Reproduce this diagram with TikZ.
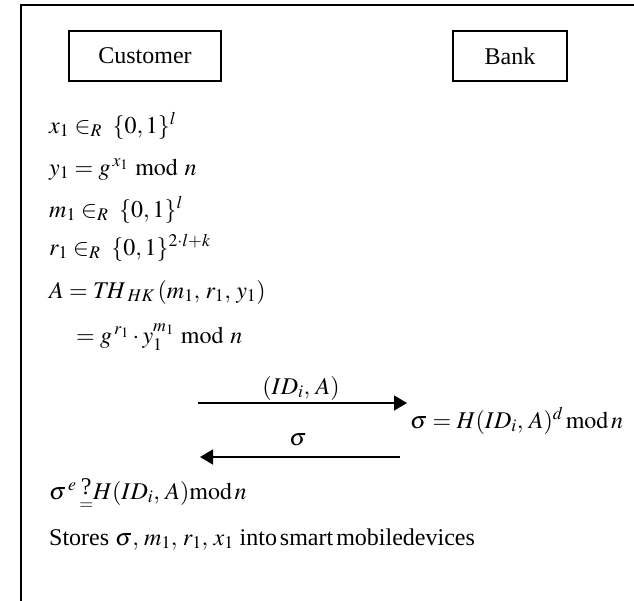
\documentclass[tikz,border=0pt]{standalone}
\usepackage{amsmath}
\usepackage{mathptmx}
\usepackage{fontspec}
\setmainfont{Liberation Serif}
\usetikzlibrary{arrows.meta}
\begin{document}
\begin{tikzpicture}[x=1pt,y=-1pt,
  every node/.style={inner sep=0pt,font=\fontsize{24}{29}\selectfont},
  txt/.style={anchor=base west},
  actorbox/.style={draw,line width=2pt,minimum height=50pt},
  msg/.style={line width=1.5pt,-{Triangle[length=13pt,width=15pt]}}]
\useasboundingbox (0,0) rectangle (634,600);
\clip (0,0) rectangle (634,600);
\fill[white] (0,0) rectangle (634,600);
\draw[line width=2pt] (21,5) rectangle (700,700);
\node[actorbox,minimum width=152pt] (cust) at (145,55.5) {Customer};
\node[actorbox,minimum width=114pt] (bank) at (510,56) {Bank};
\node[txt] (l1) at (49,133) {$x_1 \in_R \;\{0,1\}^l$};
\node[txt] (l2) at (49,175) {$y_1 = g^{\,x_1} \bmod n$};
\node[txt] (l3) at (49,217) {$m_1 \in_R \;\{0,1\}^l$};
\node[txt] (l4) at (49,255) {$r_1 \in_R \;\{0,1\}^{2\cdot l+k}$};
\node[txt] (l5) at (49,298) {$A = T\!H_{\;HK}\,(m_1,\, r_1,\, y_1)$};
\node[txt] (l6) at (76,343) {$= g^{\,r_1} \cdot y_1^{m_1} \bmod n$};
\coordinate (a1s) at (198,403);
\coordinate (a1e) at (407,403);
\coordinate (a2s) at (400,457);
\coordinate (a2e) at (200,457);
\draw[msg] (a1s) -- (a1e);
\draw[msg] (a2s) -- (a2e);
\node[anchor=base] (m1) at (301,394) {$(ID_i,\, A)$};
\node[anchor=base] (m2) at (298,445) {$\sigma$};
\node[txt] (sig) at (410,428) {$\sigma = H(ID_i,\, A)^d \,\mathrm{mod}\, n$};
\node[txt] (l7) at (49,499) {$\sigma^{\,e}\,\mathord{\underset{\raisebox{4pt}{$\scriptstyle=$}}{\raisebox{5pt}{?}}}H(ID_i,\, A)\mathrm{mod}\,n$};
\node[txt] (l8) at (49,545) {Stores $\sigma,\, m_1,\, r_1,\, x_1$ into\hspace{3pt}smart\hspace{3pt}mobiledevices};
\end{tikzpicture}
\end{document}
